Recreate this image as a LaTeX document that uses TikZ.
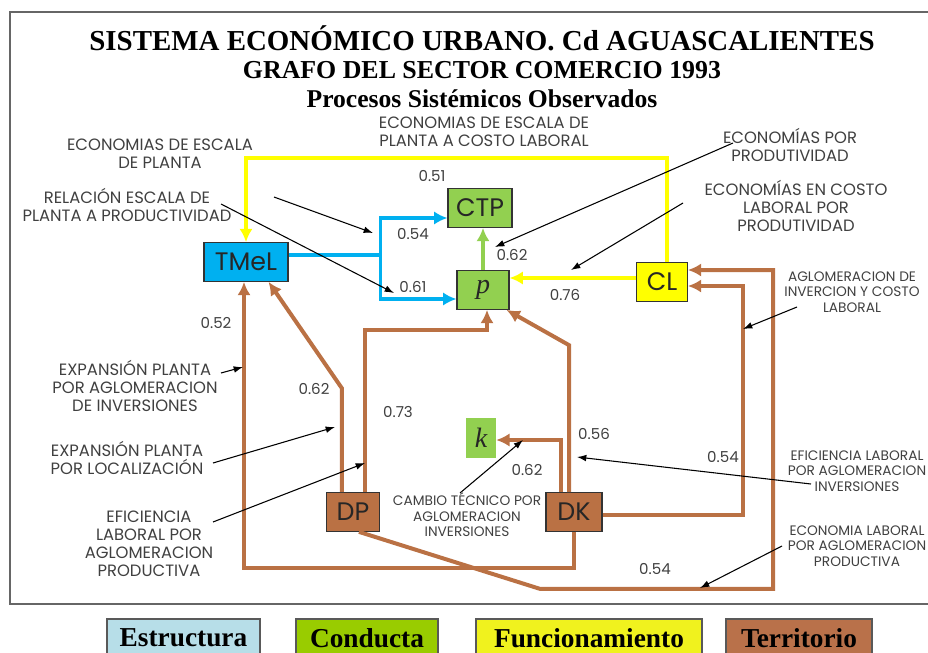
\documentclass[tikz,border=0pt]{standalone}
\usepackage{fontspec}
\newfontfamily\lblfont{Poppins}
\newfontfamily\ttlfont{Liberation Serif}
\usetikzlibrary{calc,arrows.meta}
\tikzset{>=latex}
\definecolor{tblue}{RGB}{0,176,240}
\definecolor{tgreen}{RGB}{146,208,80}
\definecolor{tyellow}{RGB}{255,255,0}
\definecolor{tbrown}{RGB}{186,113,68}
\definecolor{lgblue}{RGB}{183,222,232}
\definecolor{lggreen}{RGB}{153,204,0}
\definecolor{lgyellow}{RGB}{240,242,30}
\definecolor{lgbrown}{RGB}{185,113,74}
\tikzset{
  box/.style={draw=black!80, line width=0.8pt, inner sep=0pt, minimum height=29pt, text=black!85, font=\lblfont\fontsize{19}{21}\selectfont},
  lbl/.style={align=center, text=black!75, font=\lblfont\fontsize{12.3}{13.5}\selectfont},
  slbl/.style={lbl, font=\lblfont\fontsize{10.3}{11.5}\selectfont},
  num/.style={text=black!75, font=\lblfont\fontsize{11.3}{13}\selectfont},
  var/.style={font=\ttlfont\itshape\fontsize{21}{24}\selectfont},
  flow/.style={line width=3pt, >={Latex[length=10pt,width=10pt]}},
  note/.style={->, line width=0.8pt, >={Latex[length=7pt,width=5pt]}},
  legend/.style={draw=black!65, line width=0.8pt, minimum height=28.5pt, text=black, font=\ttlfont\bfseries\fontsize{20.5}{24}\selectfont}
}

\begin{document}
\begin{tikzpicture}[x=0.75pt,y=-0.75pt]
  \useasboundingbox (0,0) rectangle (928,653);
  \clip (0,0) rectangle (928,653);
  % frame
  \draw[black!60,line width=1pt] (10,12) rectangle (940,604);
  % titles
  \node[font=\ttlfont\bfseries\fontsize{21.7}{24}\selectfont] (t1) at (482,38) {SISTEMA ECONÓMICO URBANO. Cd AGUASCALIENTES};
  \node[font=\ttlfont\bfseries\fontsize{19.4}{22}\selectfont] (t2) at (482,70) {GRAFO DEL SECTOR COMERCIO 1993};
  \node[font=\ttlfont\bfseries\fontsize{19.2}{22}\selectfont] (t3) at (482,99) {Procesos Sistémicos Observados};
  % variables
  \node[box,fill=tblue,minimum width=63pt] (TMeL) at (246,262) {TMeL};
  \node[box,fill=tgreen,minimum width=48pt] (CTP) at (480,208) {CTP};
  \node[box,var,fill=tgreen,minimum width=39pt] (p) at (483,290) {p};
  \node[box,fill=tyellow,minimum width=38pt] (CL) at (662,282) {CL};
  \node[box,var,draw=none,fill=tgreen,minimum width=22pt,minimum height=30pt] (k) at (481,438) {k};
  \node[box,fill=tbrown,minimum width=40pt] (DP) at (353,512) {DP};
  \node[box,fill=tbrown,minimum width=42pt] (DK) at (574,512) {DK};
  % funcionamiento
  \draw[flow,tyellow,->] ($(CL.north)+(5,0)$) -- ++(0,-104) -| (TMeL.north);
  \draw[flow,tyellow,->] ($(CL.west)+(0,-4)$) -- ($(p.east)+(0,-12)$);
  % estructura
  \draw[flow,tblue,line width=2.6pt] ($(TMeL.east)+(0,-7)$) -- ++(92,0) coordinate (bj);
  \draw[flow,tblue,line width=2.6pt,->] (bj) |- ($(CTP.west)+(0,10)$);
  \draw[flow,tblue,line width=2.6pt,->] (bj) |- ($(p.west)+(0,9)$);
  % conducta
  \draw[flow,tgreen,->] (p.north) -- (p.north |- CTP.south);
  % territorio
  \draw[flow,tbrown,->] (DK.south) -- ++(0,36) -| ($(TMeL.south)+(-2,0)$);
  \draw[flow,tbrown,->] ($(DP.north west)+(16,0)$) -- ++(0,-104) -- ($(TMeL.south east)+(-20,0)$);
  \draw[flow,tbrown,->] ($(DP.north east)+(-15,0)$) -- ++(0,-162) -| ($(p.south)+(4,0)$);
  \draw[flow,tbrown,->] ($(DK.north)+(-5,0)$) -- ++(0,-147) -- ($(p.south east)+(-3,0)$);
  \draw[flow,tbrown,->] ($(DK.north)+(-13,0)$) |- ($(k.east)+(0,2)$);
  \draw[flow,tbrown,->] ($(DK.east)+(0,3)$) -- ++(140,0) |- ($(CL.east)+(0,4)$);
  \draw[flow,tbrown,->] ($(DP.south)+(6,0)$) -- ++(181,57) -- ++(233,0) |- ($(CL.east)+(0,-12)$);
  % coefficients
  \node[num] (n1) at (432,176) {0.51};
  \node[num] (n2) at (413,234) {0.54};
  \node[num] (n3) at (413,287) {0.61};
  \node[num] (n4) at (512,255) {0.62};
  \node[num] (n5) at (565,295) {0.76};
  \node[num] (n6) at (216,323) {0.52};
  \node[num] (n7) at (314,389) {0.62};
  \node[num] (n8) at (398,412) {0.73};
  \node[num] (n9) at (594,434) {0.56};
  \node[num] (n10) at (527,470) {0.62};
  \node[num] (n11) at (723,457) {0.54};
  \node[num] (n12) at (655,569) {0.54};
  % processes
  \node[lbl] (eep) at (160,154) {ECONOMIAS DE ESCALA\\DE PLANTA};
  \node[lbl] (rep) at (127,205) {RELACIÓN ESCALA DE\\PLANTA A PRODUCTIVIDAD};
  \node[lbl] (eec) at (484,132) {ECONOMIAS DE ESCALA DE\\PLANTA A COSTO LABORAL};
  \node[lbl] (epp) at (790,145) {ECONOMÍAS POR\\PRODUTIVIDAD};
  \node[lbl] (ecl) at (796,206) {ECONOMÍAS EN COSTO\\LABORAL POR\\PRODUTIVIDAD};
  \node[slbl] (aic) at (852,292) {AGLOMERACION DE\\INVERCION Y COSTO\\LABORAL};
  \node[lbl] (epa) at (135,386) {EXPANSIÓN PLANTA\\POR AGLOMERACION\\DE INVERSIONES};
  \node[lbl] (epl) at (127,458) {EXPANSIÓN PLANTA\\POR LOCALIZACIÓN};
  \node[lbl] (elp) at (149,544) {EFICIENCIA\\LABORAL POR\\AGLOMERACION\\PRODUCTIVA};
  \node[slbl] (cta) at (467,515) {CAMBIO TÉCNICO POR\\AGLOMERACION\\INVERSIONES};
  \node[slbl] (eli) at (857,471) {EFICIENCIA LABORAL\\POR AGLOMERACION\\INVERSIONES};
  \node[slbl] (elap) at (857,546) {ECONOMIA LABORAL\\POR AGLOMERACION\\PRODUCTIVA};
  % pointers
  \coordinate (a1) at (274,197); \coordinate (a2) at (373,233);
  \coordinate (b1) at (221,204); \coordinate (b2) at (394,293);
  \coordinate (d1) at (733,143); \coordinate (d2) at (495,247);
  \coordinate (e1) at (683,203); \coordinate (e2) at (571,270);
  \coordinate (f1) at (797,307); \coordinate (f2) at (743,329);
  \coordinate (g1) at (221,373); \coordinate (g2) at (243,367);
  \coordinate (h1) at (213,463); \coordinate (h2) at (335,427);
  \coordinate (i1) at (213,522); \coordinate (i2) at (365,463);
  \coordinate (j1) at (460,493); \coordinate (j2) at (523,440);
  \coordinate (k1) at (811,484); \coordinate (k2) at (577,457);
  \coordinate (l1) at (782,546); \coordinate (l2) at (700,588);
  \foreach \s in {a,b,d,e,f,g,h,i,j,k,l}
    \draw[note] (\s1) -- (\s2);
  % legend
  \node[legend,fill=lgblue,minimum width=114.75pt] (lE) at (183.5,638) {Estructura};
  \node[legend,fill=lggreen,minimum width=106.5pt] (lC) at (367,638) {Conducta};
  \node[legend,fill=lgyellow,minimum width=169.5pt] (lF) at (589,638) {Funcionamiento};
  \node[legend,fill=lgbrown,minimum width=109.5pt] (lT) at (799,638) {Territorio};
\end{tikzpicture}
\end{document}
